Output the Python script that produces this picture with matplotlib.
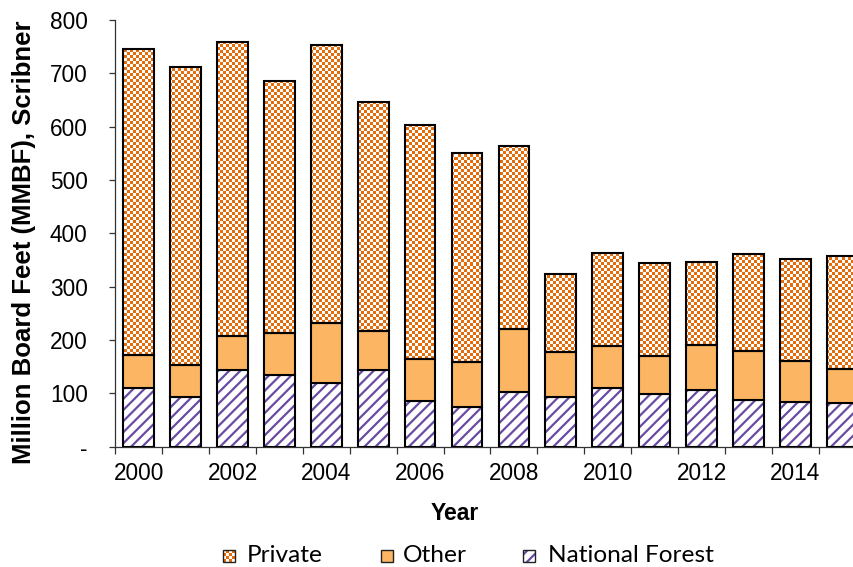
import numpy as np
import matplotlib
matplotlib.use("Agg")
import matplotlib.pyplot as plt
from matplotlib.patches import Rectangle
from matplotlib.ticker import FixedLocator, FixedFormatter

# harvest by owner, million board feet
years = [2000, 2001, 2002, 2003, 2004, 2005, 2006, 2007,
         2008, 2009, 2010, 2011, 2012, 2013, 2014, 2015]
national_forest = [110, 94, 144, 134, 119, 144, 86, 75, 103, 94, 110, 98, 106, 88, 83, 81]
other = [61, 60, 64, 80, 113, 73, 78, 84, 117, 84, 78, 72, 85, 92, 78, 65]
private = [575, 557, 551, 472, 521, 429, 439, 392, 343, 146, 175, 174, 155, 181, 190, 211]

y_ticks = [0, 100, 200, 300, 400, 500, 600, 700, 800]
y_tick_labels = ["-", "100", "200", "300", "400", "500", "600", "700", "800"]
legend_names = ["Private", "Other", "National Forest"]

orange = "#E46C0A"
light_orange = "#FBB563"
purple = "#6A4BA3"

plt.rcParams["font.family"] = ["Liberation Sans", "DejaVu Sans"]
plt.rcParams["hatch.linewidth"] = 1.6

W, H = 854, 567
fig = plt.figure(figsize=(W / 100, H / 100), dpi=100)
ax_l, ax_r, ax_t, ax_b = 115.25, 854, 20, 446.7
ax = fig.add_axes([ax_l / W, 1 - ax_b / H, (ax_r - ax_l) / W, (ax_b - ax_t) / H])

x = np.arange(len(years))
nf = np.array(national_forest)
ot = np.array(other)
pr = np.array(private)
bw = 0.655
xlim = (-0.5, 15.25)
ylim = (0, 800)

# national forest: purple stripes
ax.bar(x, nf, bw, color="white", edgecolor=purple, hatch="///", linewidth=0, zorder=2)
ax.bar(x, nf, bw, fill=False, edgecolor="black", linewidth=1.5, zorder=4)

# other: plain light orange
ax.bar(x, ot, bw, bottom=nf, color=light_orange, edgecolor="black", linewidth=1.5, zorder=4)

# private: checkerboard image clipped to each bar
pbars = ax.bar(x, pr, bw, bottom=nf + ot, color="white", linewidth=0, zorder=2)
pw, ph = int(round(ax_r - ax_l)), int(round(ax_b - ax_t))
rr, cc = np.mgrid[0:ph, 0:pw]
check = ((rr // 3 + cc // 3) % 2).astype(bool)
rgb = np.ones((ph, pw, 3))
rgb[check] = matplotlib.colors.to_rgb(orange)
for p in pbars:
    im = ax.imshow(rgb, extent=(xlim[0], xlim[1], ylim[0], ylim[1]), origin="upper",
                   interpolation="nearest", aspect="auto", zorder=3)
    im.set_clip_path(p)
ax.bar(x, pr, bw, bottom=nf + ot, fill=False, edgecolor="black", linewidth=1.5, zorder=4)

ax.set_xlim(*xlim)
ax.set_ylim(*ylim)

for s in ["top", "right"]:
    ax.spines[s].set_visible(False)
for s in ["left", "bottom"]:
    ax.spines[s].set_color("#333333")
    ax.spines[s].set_linewidth(0.9)

ax.yaxis.set_major_locator(FixedLocator(y_ticks))
ax.yaxis.set_major_formatter(FixedFormatter(y_tick_labels))
ax.tick_params(axis="y", length=4.3, width=0.9, color="#333333", pad=15.5,
               labelsize=16.3, labelcolor="black")

ax.xaxis.set_major_locator(FixedLocator(x[::2]))
ax.xaxis.set_major_formatter(FixedFormatter([str(y) for y in years[::2]]))
ax.xaxis.set_minor_locator(FixedLocator(np.arange(-0.5, 15.3, 1.0)))
ax.tick_params(axis="x", which="major", length=0, pad=11, labelsize=16.3)
ax.tick_params(axis="x", which="minor", length=5, width=0.9, color="#333333")

fig.text(455 / W, 1 - 514 / H, "Year", ha="center", va="center",
         fontsize=16.5, fontweight="bold")
fig.text(24 / W, 1 - 242 / H, "Million Board Feet (MMBF), Scribner", rotation=90,
         ha="center", va="center", fontsize=18.5, fontweight="bold")

# legend along the bottom
leg_y = 556
sq = 12
marker_x = [223, 381, 523]
text_x = [247, 403, 548]
small = np.ones((sq, sq, 3))
sr, sc = np.mgrid[0:sq, 0:sq]
small[((sr // 3 + sc // 3) % 2).astype(bool)] = matplotlib.colors.to_rgb(orange)
fig.figimage(small, xo=marker_x[0], yo=H - leg_y - sq // 2, zorder=5)
face = [None, light_orange, "white"]
hatch = [None, None, "///"]
for i, name in enumerate(legend_names):
    x0 = marker_x[i] / W
    y0 = (H - leg_y - sq / 2) / H
    if face[i] is not None:
        fig.patches.append(Rectangle((x0, y0), sq / W, sq / H, transform=fig.transFigure,
                                     facecolor=face[i], edgecolor=purple if hatch[i] else "none",
                                     hatch=hatch[i], linewidth=0, zorder=5))
    fig.patches.append(Rectangle((x0, y0), sq / W, sq / H, transform=fig.transFigure,
                                 fill=False, edgecolor="#222222", linewidth=1.0, zorder=6))
    fig.text(text_x[i] / W, 1 - leg_y / H, name, ha="left", va="center",
             fontsize=17.6, family=["Lato", "DejaVu Sans"])

fig.savefig("out.png", dpi=100)
